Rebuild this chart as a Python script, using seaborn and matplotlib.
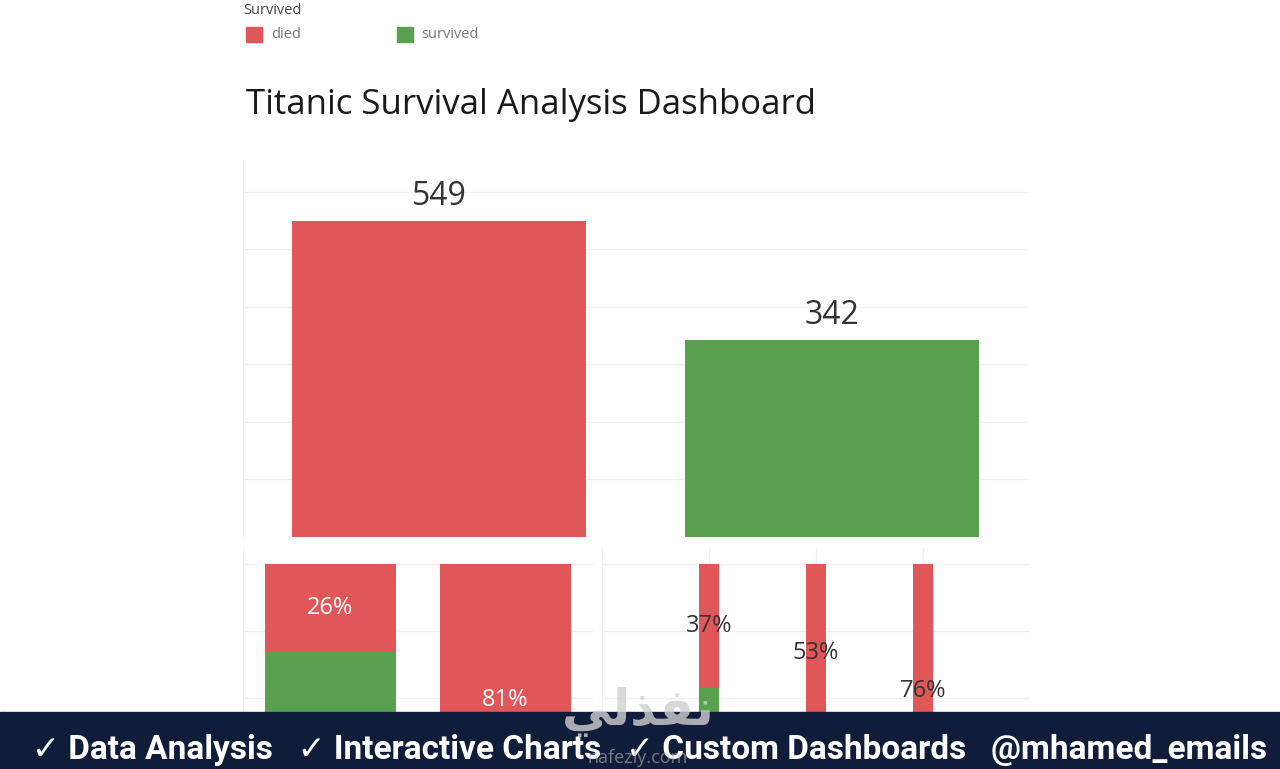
import matplotlib
matplotlib.use("Agg")
import matplotlib.pyplot as plt
import seaborn as sns
import numpy as np

# data
survival_labels = ["died", "survived"]
survival_counts = [549, 342]

sex_labels = ["female", "male"]
sex_died_pct = [26, 81]
sex_survived_pct = [74, 19]

class_labels = ["1", "2", "3"]
class_died_pct = [37, 53, 76]
class_survived_pct = [63, 47, 24]

banner_text = "\u2713 Data Analysis   \u2713 Interactive Charts   \u2713 Custom Dashboards   @mhamed_emails"

RED = "#E15759"
GREEN = "#59A14F"
NAVY = "#0F1D3A"
GRID = "#F0F0F0"

sns.set_style("white")
plt.rcParams["font.family"] = ["Open Sans", "DejaVu Sans"]

W, H = 1280, 769
fig = plt.figure(figsize=(W / 100, H / 100), dpi=100)


def px_rect(l, t, r, b):
    return [l / W, 1 - b / H, (r - l) / W, (b - t) / H]


def clean(ax):
    ax.set_xlabel("")
    ax.set_ylabel("")
    ax.set_xticklabels([])
    ax.set_yticklabels([])
    ax.tick_params(length=0)
    for s in ax.spines.values():
        s.set_visible(False)
    ax.spines["left"].set_visible(True)
    ax.spines["left"].set_color(GRID)
    ax.set_axisbelow(True)


# legend + title
fig.text(243 / W, 1 - 10 / H, "Survived", fontsize=10.5, color="#444444", va="center")
fig.patches.append(plt.Rectangle((246 / W, 1 - 42 / H), 16 / W, 15 / H,
                                 transform=fig.transFigure, color=RED))
fig.text(271 / W, 1 - 35 / H, "died", fontsize=10.5, color="#777777", va="center")
fig.patches.append(plt.Rectangle((397 / W, 1 - 42 / H), 16 / W, 15 / H,
                                 transform=fig.transFigure, color=GREEN))
fig.text(421 / W, 1 - 35 / H, "survived", fontsize=10.5, color="#777777", va="center")
fig.text(246 / W, 1 - 105 / H, "Titanic Survival Analysis Dashboard",
         fontsize=25, color="#1a1a1a", va="center")

bar_kw = dict(saturation=1, linewidth=0)

# top: counts
ax1 = fig.add_axes(px_rect(243, 160, 1028, 537))
sns.barplot(x=survival_labels, y=survival_counts, hue=survival_labels,
            palette=[RED, GREEN], width=0.75, legend=False, ax=ax1, **bar_kw)
ax1.set_xlim(-0.5, 1.5)
ax1.set_ylim(0, 655)
ax1.set_yticks(range(100, 700, 100))
ax1.yaxis.grid(True, color=GRID, lw=1)
clean(ax1)
for i, v in enumerate(survival_counts):
    ax1.text(i, v + 14, str(v), ha="center", va="bottom", fontsize=23, color="#333333")

# bottom left: by sex
ax2 = fig.add_axes(px_rect(243, 548, 593, 769))
sns.barplot(x=sex_labels, y=np.add(sex_died_pct, sex_survived_pct), color=RED,
            width=0.75, ax=ax2, **bar_kw)
sns.barplot(x=sex_labels, y=sex_survived_pct, color=GREEN,
            width=0.75, ax=ax2, **bar_kw)
ax2.set_xlim(-0.5, 1.5)
ax2.set_ylim(38.8, 104.8)
ax2.set_yticks([60, 80, 100])
ax2.yaxis.grid(True, color=GRID, lw=1)
clean(ax2)
for i, (d, s) in enumerate(zip(sex_died_pct, sex_survived_pct)):
    ax2.text(i, s + d / 2, f"{d}%", ha="center", va="center", fontsize=17, color="white")

# bottom right: by class
ax3 = fig.add_axes(px_rect(602, 548, 1030, 769))
sns.barplot(x=class_labels, y=np.add(class_died_pct, class_survived_pct), color=RED,
            width=0.18, ax=ax3, **bar_kw)
sns.barplot(x=class_labels, y=class_survived_pct, color=GREEN,
            width=0.18, ax=ax3, **bar_kw)
ax3.set_xlim(-1, 3)
ax3.set_ylim(38.8, 104.8)
ax3.set_yticks([60, 80, 100])
ax3.grid(True, color=GRID, lw=1)
clean(ax3)
for i, (d, s) in enumerate(zip(class_died_pct, class_survived_pct)):
    ax3.text(i, s + d / 2, f"{d}%", ha="center", va="center", fontsize=17, color="#333333")

# banner
fig.patches.append(plt.Rectangle((0, 0), 1, 57 / H, transform=fig.transFigure,
                                 color=NAVY, zorder=5))
fig.text(650 / W, 1 - 750 / H, banner_text, ha="center", va="center",
         fontsize=24, fontweight="bold", color="white", zorder=6,
         family=["Roboto", "DejaVu Sans"])
# watermark
fig.text(638 / W, 1 - 712 / H, "\ufef2\ufedf\ufeac\ufed4\ufee7", ha="center", va="center",
         fontsize=36, fontweight="bold", color="#d0d0d0", alpha=0.8, zorder=7,
         family=["DejaVu Sans"])
fig.text(638 / W, 1 - 758 / H, "nafezly.com", ha="center", va="center",
         fontsize=13, color="#bbbbbb", alpha=0.6, zorder=7)

fig.savefig("out.png", dpi=100)
